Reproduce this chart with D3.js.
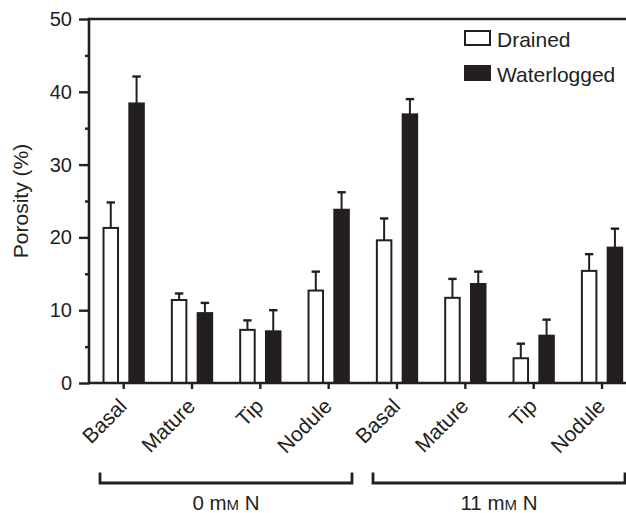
<!DOCTYPE html>
<html>
<head>
<meta charset="utf-8">
<script src="https://cdn.jsdelivr.net/npm/d3@7"></script>
<style>
  html, body { margin: 0; padding: 0; background: #fff; }
  svg { display: block; }
  text { font-family: "Liberation Sans", Arial, Helvetica, sans-serif; fill: #231f20; }
</style>
</head>
<body>
<svg id="chart" width="626" height="513"></svg>
<script>
// ---- data ----
const categories = ["Basal", "Mature", "Tip", "Nodule"];
const groups = ["0 mM N", "11 mM N"];
const series = ["Drained", "Waterlogged"];
const drained = [21.3, 11.4, 7.3, 12.7, 19.6, 11.7, 3.4, 15.4];
const drainedErr = [3.5, 0.9, 1.3, 2.6, 3.0, 2.6, 2.0, 2.3];
const waterlogged = [38.4, 9.6, 7.1, 23.8, 36.9, 13.6, 6.5, 18.6];
const waterloggedErr = [3.7, 1.4, 2.9, 2.4, 2.1, 1.7, 2.2, 2.6];
const yTicks = [0, 10, 20, 30, 40, 50];
const yMinorTicks = [5, 15, 25, 35, 45];

// ---- build rows ----
const keys = [];
groups.forEach((g, gi) => categories.forEach((c, ci) => keys.push({ key: g + "|" + c, group: g, cat: c })));
const rows = keys.map((k, i) => ({
  ...k,
  values: [
    { s: "Drained", v: drained[i], e: drainedErr[i] },
    { s: "Waterlogged", v: waterlogged[i], e: waterloggedErr[i] }
  ]
}));

const ink = "#231f20";
const svg = d3.select("#chart");
const x0 = 89, yTop = 19, yBot = 383;

const x = d3.scaleBand().domain(keys.map(k => k.key)).range([89.5, 636.2]).paddingInner(0).paddingOuter(0);
const xs = d3.scaleBand().domain(series).range([-21.15, 21.15]).paddingInner(0.36).paddingOuter(0);
const y = d3.scaleLinear().domain([0, 50]).range([yBot, yTop]);

// bars
const g = svg.append("g");
const cat = g.selectAll("g.cat").data(rows).join("g")
  .attr("class", "cat")
  .attr("transform", d => `translate(${x(d.key) + x.bandwidth() / 2},0)`);

// error bars (upward only)
cat.selectAll("g.err").data(d => d.values).join("g").attr("class", "err").each(function (d) {
  const cx = xs(d.s) + xs.bandwidth() / 2;
  const sel = d3.select(this);
  sel.append("line").attr("x1", cx).attr("x2", cx).attr("y1", y(d.v)).attr("y2", y(d.v + d.e))
    .attr("stroke", ink).attr("stroke-width", 2);
  sel.append("line").attr("x1", cx - 4.2).attr("x2", cx + 4.2).attr("y1", y(d.v + d.e)).attr("y2", y(d.v + d.e))
    .attr("stroke", ink).attr("stroke-width", 2.4);
});

cat.selectAll("rect").data(d => d.values).join("rect")
  .attr("x", d => xs(d.s) + 1)
  .attr("width", xs.bandwidth() - 2)
  .attr("y", d => y(d.v))
  .attr("height", d => y(0) - y(d.v))
  .attr("fill", d => d.s === "Drained" ? "#fff" : ink)
  .attr("stroke", ink)
  .attr("stroke-width", 2);

// y axis
const yAxis = d3.axisLeft(y).tickValues(yTicks).tickSize(10).tickPadding(7).tickSizeOuter(0);
const ya = svg.append("g").attr("transform", `translate(${x0},0)`).call(yAxis);
ya.select(".domain").remove();
ya.selectAll(".tick line").attr("stroke", ink).attr("stroke-width", 2.4);
ya.selectAll(".tick text").attr("font-size", 20).attr("fill", ink)
  .style("font-family", '"Liberation Sans", Arial, sans-serif');
const yMinor = d3.axisLeft(y).tickValues(yMinorTicks).tickSize(4).tickFormat("").tickSizeOuter(0);
const ym = svg.append("g").attr("transform", `translate(${x0},0)`).call(yMinor);
ym.select(".domain").remove();
ym.selectAll(".tick line").attr("stroke", ink).attr("stroke-width", 2.4);

// x axis ticks
const xAxis = d3.axisBottom(x).tickSize(6).tickFormat(k => k.split("|")[1]).tickSizeOuter(0);
const xa = svg.append("g").attr("transform", `translate(0,${yBot})`).call(xAxis);
xa.select(".domain").remove();
xa.selectAll(".tick line").attr("stroke", ink).attr("stroke-width", 2.4);
xa.selectAll(".tick text")
  .attr("font-size", 21).attr("fill", ink)
  .style("font-family", '"Liberation Sans", Arial, sans-serif')
  .attr("text-anchor", "end")
  .attr("dy", null).attr("y", null)
  .attr("transform", "translate(4.5,24.5) rotate(-45)");

// frame lines
svg.append("line").attr("x1", x0).attr("x2", 626).attr("y1", yTop).attr("y2", yTop).attr("stroke", ink).attr("stroke-width", 2.6);
svg.append("line").attr("x1", x0).attr("x2", 626).attr("y1", yBot).attr("y2", yBot).attr("stroke", ink).attr("stroke-width", 2.6);
svg.append("line").attr("x1", x0).attr("x2", x0).attr("y1", yTop - 1.3).attr("y2", yBot + 1.3).attr("stroke", ink).attr("stroke-width", 2.6);

// y label
svg.append("text").attr("transform", "translate(28,201) rotate(-90)").attr("text-anchor", "middle")
  .attr("font-size", 21).text("Porosity (%)");

// group brackets
const bracketSpans = [[100, 352], [373, 625]];
groups.forEach((gname, i) => {
  const [a, b] = bracketSpans[i];
  svg.append("path").attr("d", `M${a},472.5 V483 H${b} V472.5`).attr("fill", "none")
    .attr("stroke", ink).attr("stroke-width", 2.8);
  const parts = gname.split(" "); // ["0","mM","N"]
  const t = svg.append("text").attr("x", (a + b) / 2).attr("y", 509.5).attr("text-anchor", "middle").attr("font-size", 20.5);
  t.append("tspan").text(parts[0] + " m");
  t.append("tspan").attr("font-size", 15).text(parts[1].slice(1));
  t.append("tspan").text(" " + parts[2]);
});

// legend
const legend = svg.append("g");
const legY = [31, 66];
series.forEach((s, i) => {
  legend.append("rect").attr("x", 465).attr("y", legY[i]).attr("width", 25).attr("height", 14)
    .attr("fill", s === "Drained" ? "#fff" : ink).attr("stroke", ink).attr("stroke-width", 2);
  legend.append("text").attr("x", 497).attr("y", legY[i] + 15.5).attr("font-size", 21).text(s);
});
</script>
</body>
</html>
